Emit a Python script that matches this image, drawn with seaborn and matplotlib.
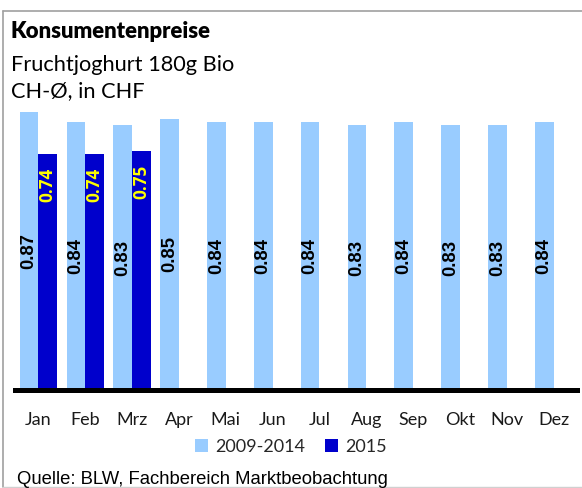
import numpy as np
import pandas as pd
import matplotlib
matplotlib.use("Agg")
import matplotlib.pyplot as plt
from matplotlib.lines import Line2D
from matplotlib.patches import Patch
import seaborn as sns

# Monthly consumer prices, CHF
months = ["Jan", "Feb", "Mrz", "Apr", "Mai", "Jun", "Jul", "Aug", "Sep", "Okt", "Nov", "Dez"]
series_names = ["2009-2014", "2015"]
avg_2009_2014 = [0.87, 0.84, 0.83, 0.85, 0.84, 0.84, 0.84, 0.83, 0.84, 0.83, 0.83, 0.84]
prices_2015 = [0.74, 0.74, 0.75, np.nan, np.nan, np.nan, np.nan, np.nan, np.nan, np.nan, np.nan, np.nan]

title = "Konsumentenpreise"
subtitle_1 = "Fruchtjoghurt 180g Bio"
subtitle_2 = "CH-Ø, in CHF"
source = "Quelle: BLW, Fachbereich Marktbeobachtung"

LIGHT = "#99CCFF"
DARK = "#0000CC"

df = pd.DataFrame({
    "Monat": months * 2,
    "Reihe": [series_names[0]] * 12 + [series_names[1]] * 12,
    "Preis": avg_2009_2014 + prices_2015,
})

sns.set_style("white")
plt.rcParams["font.family"] = ["Lato", "DejaVu Sans"]

W, H = 582, 488
fig = plt.figure(figsize=(W / 100, H / 100), dpi=100)
fig.patch.set_facecolor("white")

ax_left, ax_right, ax_bottom, ax_top = 15, 577, 390, 71
ax = fig.add_axes([ax_left / W, 1 - ax_bottom / H, (ax_right - ax_left) / W, (ax_bottom - ax_top) / H])

sns.barplot(data=df, x="Monat", y="Preis", hue="Reihe", order=months,
            hue_order=series_names, palette=[LIGHT, DARK], saturation=1,
            width=0.8, linewidth=0, legend=False, ax=ax)

ax.set_ylim(0, 1.0)
ax.set_xlim(-0.5, 11.5)
ax.set_xlabel("")
ax.set_ylabel("")
ax.set_yticks([])
for side in ["left", "top", "right"]:
    ax.spines[side].set_visible(False)
ax.spines["bottom"].set_color("black")
ax.spines["bottom"].set_linewidth(3.6)
ax.spines["bottom"].set_zorder(5)
ax.tick_params(axis="x", length=0, pad=16, labelsize=13, labelcolor="#1a1a1a")
ax.set_facecolor("white")

# value labels
light_bars, dark_bars = ax.containers[0], ax.containers[1]
for bar in light_bars:
    h = bar.get_height()
    if np.isnan(h):
        continue
    ax.text(bar.get_x() + bar.get_width() / 2, h / 2, f"{h:.2f}", rotation=90,
            ha="center", va="center", fontsize=13.3, fontweight="bold",
            family=["Liberation Sans", "DejaVu Sans"], color="black")
for bar in dark_bars:
    h = bar.get_height()
    if np.isnan(h):
        continue
    ax.annotate(f"{h:.2f}", xy=(bar.get_x() + bar.get_width() / 2, h),
                xytext=(0, -22.5), textcoords="offset points", rotation=90,
                ha="center", va="center", fontsize=12.3, fontweight="bold",
                family=["Open Sans", "DejaVu Sans"], color="#FFFF00")

# headings
fig.text(11 / W, 1 - 38 / H, title, fontsize=15.9, fontweight="heavy", va="baseline", color="black")
fig.text(11 / W, 1 - 71 / H, subtitle_1, fontsize=15.7, va="baseline", color="black")
fig.text(11 / W, 1 - 97 / H, subtitle_2, fontsize=15.7, va="baseline", color="black")

# legend
handles = [Patch(facecolor=LIGHT, edgecolor="none"), Patch(facecolor=DARK, edgecolor="none")]
fig.legend(handles, series_names, loc="center", bbox_to_anchor=(291 / W, 1 - 447 / H),
           ncol=2, frameon=False, fontsize=13, handlelength=0.7, handleheight=0.7,
           handletextpad=0.4, columnspacing=1.1, borderpad=0)

# source note
fig.text(17 / W, 1 - 484 / H, source, fontsize=13.3, va="baseline",
         family=["Liberation Sans", "DejaVu Sans"], color="black")

# frame around the chart
frame_col = "#A0A0A0"
fig.add_artist(Line2D([2.5 / W, 1], [1 - 10.5 / H, 1 - 10.5 / H], color=frame_col, lw=1.2, transform=fig.transFigure))
fig.add_artist(Line2D([2.5 / W, 2.5 / W], [1 - 10.5 / H, 1 - 487 / H], color=frame_col, lw=1.2, transform=fig.transFigure))
fig.add_artist(Line2D([2.5 / W, 1], [1 - 487 / H, 1 - 487 / H], color="#D0D0D0", lw=1.0, transform=fig.transFigure))

fig.savefig("out.png", dpi=100, facecolor="white")
